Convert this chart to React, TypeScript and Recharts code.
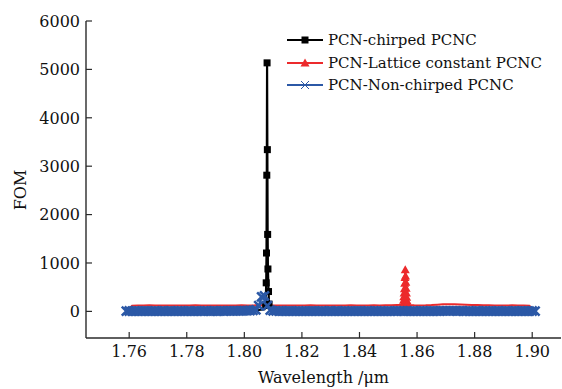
import { LineChart, Line, XAxis, YAxis } from "recharts";

const FONT = "'DejaVu Serif', serif";
const BLACK = "#000000";
const RED = "#ec2a2c";
const BLUE = "#2b58a6";

// wavelength grids (µm)
const GRID_START = 1.759;
const BLUE_STEP = 0.001;
const BASE_STEP = 0.002;

const X_TICKS = [1.76, 1.78, 1.8, 1.82, 1.84, 1.86, 1.88, 1.9];
const Y_TICKS = [0, 1000, 2000, 3000, 4000, 5000, 6000];

// PCN-chirped PCNC (black) baseline on the 0.002 grid
const BLACK_BASE = [
  12, 14, 13, 15, 12, 14, 13, 15, 14, 12,
  13, 15, 14, 12, 16, 13, 14, 15, 16, 18,
  17, 19, 22, 28, 45, 30, 20, 17, 15, 14,
  13, 15, 14, 12, 13, 15, 14, 13, 12, 14,
  15, 13, 14, 12, 13, 14, 15, 13, 14, 12,
  13, 15, 14, 13, 12, 14, 13, 15, 14, 13,
  12, 14, 13, 15, 14, 12, 13, 14, 15, 13,
  12, 14,
];
const BLACK_PEAK_WL = [1.8074, 1.8076, 1.8077, 1.8078, 1.8079, 1.808, 1.8081, 1.8082, 1.8084, 1.8086];
const BLACK_PEAK_FOM = [120, 590, 1206, 2814, 5135, 3342, 1590, 876, 410, 150];

// PCN-Lattice constant PCNC (red)
const RED_BASE = [
  0, 118, 122, 120, 125, 121, 119, 123, 120, 124,
  122, 120, 125, 121, 123, 120, 124, 122, 121, 123,
  125, 122, 124, 128, 126, 123, 121, 124, 122, 120,
  123, 121, 125, 122, 120, 124, 121, 123, 122, 125,
  121, 124, 122, 126, 123, 125, 128, 132, 135, 132,
  126, 123, 125, 130, 138, 145, 148, 146, 142, 138,
  134, 130, 127, 125, 123, 124, 122, 125, 123, 121,
  118, 0,
];
const RED_PEAK_WL = [
  1.8552, 1.8553, 1.8554, 1.8555, 1.8556, 1.8557, 1.8558, 1.8559,
  1.856, 1.8561, 1.8562, 1.8563, 1.8564, 1.8565, 1.8566,
];
const RED_PEAK_FOM = [170, 230, 300, 380, 470, 580, 700, 860, 730, 600, 480, 380, 290, 220, 165];

// PCN-Non-chirped PCNC (blue) on the 0.001 grid
const BLUE_BASE = [
  6, 8, 5, 7, 6, 4, 7, 8, 6, 5,
  7, 6, 5, 8, 6, 7, 5, 6, 8, 7,
  6, 5, 7, 6, 8, 5, 6, 7, 9, 6,
  7, 8, 6, 9, 8, 10, 9, 11, 10, 12,
  13, 15, 16, 18, 22, 30, 120, 300, 320, 120,
  25, 12, 9, 8, 7, 6, 8, 7, 6, 5,
  7, 6, 5, 6, 8, 7, 5, 6, 7, 6,
  5, 7, 6, 8, 6, 5, 7, 6, 5, 6,
  8, 7, 6, 5, 7, 6, 8, 7, 6, 5,
  6, 7, 5, 6, 8, 9, 7, 6, 5, 6,
  7, 6, 8, 7, 6, 5, 7, 8, 6, 7,
  9, 10, 11, 10, 9, 8, 9, 7, 6, 7,
  6, 5, 7, 6, 8, 7, 6, 5, 6, 7,
  5, 6, 7, 6, 5, 7, 6, 8, 7, 6,
  5, 7, 6,
];

function buildSeries(base: number[], step: number, peakWl: number[] = [], peakFom: number[] = []) {
  const pts = base.map((fom, i) => ({ wl: +(GRID_START + i * step).toFixed(4), fom }));
  peakWl.forEach((wl, i) => pts.push({ wl, fom: peakFom[i] }));
  return pts.sort((a, b) => a.wl - b.wl);
}

const blackData = buildSeries(BLACK_BASE, BASE_STEP, BLACK_PEAK_WL, BLACK_PEAK_FOM);
const redData = buildSeries(RED_BASE, BASE_STEP, RED_PEAK_WL, RED_PEAK_FOM);
const blueData = buildSeries(BLUE_BASE, BLUE_STEP);

const X_DOMAIN = [1.745, 1.91];
const Y_DOMAIN = [-550, 6000];
const AXIS_COLOR = "#2a2a2a";

// baseline markers are buried in the blue band, only peaks show them
const SquareDot = (p: any) => {
  const { cx, cy, payload, index } = p;
  if (payload.fom < 100) return <g key={`b${index}`} />;
  return <rect key={`b${index}`} x={cx - 3.5} y={cy - 3.5} width={7} height={7} fill={BLACK} />;
};

const TriangleDot = (p: any) => {
  const { cx, cy, payload, index } = p;
  if (payload.fom < 150) return <g key={`r${index}`} />;
  return (
    <path key={`r${index}`} d={`M${cx},${cy - 4.5} L${cx + 4.5},${cy + 3.5} L${cx - 4.5},${cy + 3.5} Z`} fill={RED} />
  );
};

const CrossDot = (p: any) => {
  const { cx, cy, index } = p;
  const s = 4.5;
  return (
    <path
      key={`x${index}`}
      d={`M${cx - s},${cy - s} L${cx + s},${cy + s} M${cx - s},${cy + s} L${cx + s},${cy - s}`}
      stroke={BLUE}
      strokeWidth={2.6}
    />
  );
};

const XTick = ({ x, y, payload }: any) => (
  <g>
    <line x1={x} x2={x} y1={y - 8} y2={y - 14} stroke={AXIS_COLOR} strokeWidth={1.2} />
    <text x={x} y={y} dy="0.71em" textAnchor="middle" fontSize={16} fontFamily={FONT} fill="#111">
      {payload.value.toFixed(2)}
    </text>
  </g>
);

const YTick = ({ x, y, payload }: any) => (
  <g>
    <line x1={x + 6} x2={x + 12} y1={y} y2={y} stroke={AXIS_COLOR} strokeWidth={1.2} />
    <text x={x} y={y} dy="0.36em" textAnchor="end" fontSize={16} fontFamily={FONT} fill="#111">
      {payload.value}
    </text>
  </g>
);

const LEGEND = [
  { name: "PCN-chirped PCNC", color: BLACK, marker: "square" },
  { name: "PCN-Lattice constant PCNC", color: RED, marker: "triangle" },
  { name: "PCN-Non-chirped PCNC", color: BLUE, marker: "cross" },
];

function LegendBox() {
  const rowY = [40, 63, 85];
  return (
    <svg width={562} height={389} style={{ position: "absolute", left: 0, top: 0, pointerEvents: "none" }}>
      {LEGEND.map((l, i) => {
        const y = rowY[i];
        const cx = 305;
        return (
          <g key={l.name}>
            <line x1={287} x2={323} y1={y} y2={y} stroke={l.color} strokeWidth={2} />
            {l.marker === "square" && <rect x={cx - 3.5} y={y - 3.5} width={7} height={7} fill={l.color} />}
            {l.marker === "triangle" && (
              <path d={`M${cx},${y - 4.5} L${cx + 4.5},${y + 3.5} L${cx - 4.5},${y + 3.5} Z`} fill={l.color} />
            )}
            {l.marker === "cross" && (
              <path
                d={`M${cx - 4},${y - 4} L${cx + 4},${y + 4} M${cx - 4},${y + 4} L${cx + 4},${y - 4}`}
                stroke={l.color}
                strokeWidth={1}
              />
            )}
            <text x={328} y={y} dy="0.36em" fontSize={15} fontFamily={FONT} fill="#111">
              {l.name}
            </text>
          </g>
        );
      })}
    </svg>
  );
}

export default function App() {
  return (
    <div style={{ position: "absolute", left: 0, top: 0, width: 562, height: 389, background: "#fff" }}>
      <LineChart width={562} height={389} margin={{ top: 21, right: 1, left: 10, bottom: 0 }}>
        <XAxis
          dataKey="wl"
          type="number"
          domain={X_DOMAIN}
          ticks={X_TICKS}
          allowDataOverflow
          height={51}
          tickSize={0}
          tickMargin={8}
          tick={<XTick />}
          axisLine={{ stroke: AXIS_COLOR, strokeWidth: 1.4 }}
          label={{ value: "Wavelength /μm", position: "insideBottom", offset: 6, fontSize: 16, fontFamily: FONT, fill: "#111" }}
        />
        <XAxis
          xAxisId="top"
          orientation="top"
          type="number"
          domain={X_DOMAIN}
          height={0}
          tick={false}
          tickLine={false}
          axisLine={{ stroke: AXIS_COLOR, strokeWidth: 1.4 }}
        />
        <YAxis
          type="number"
          domain={Y_DOMAIN}
          ticks={Y_TICKS}
          allowDataOverflow
          width={76}
          tickSize={0}
          tickMargin={6}
          tick={<YTick />}
          axisLine={{ stroke: AXIS_COLOR, strokeWidth: 1.4 }}
          label={{
            content: () => (
              <text x={20} y={190} transform="rotate(-90 20 190)" textAnchor="middle" dy="0.36em" fontSize={16} fontFamily={FONT} fill="#111">
                FOM
              </text>
            ),
          }}
        />
        <YAxis
          yAxisId="right"
          orientation="right"
          type="number"
          domain={Y_DOMAIN}
          width={0}
          tick={false}
          tickLine={false}
          axisLine={{ stroke: AXIS_COLOR, strokeWidth: 1.4 }}
        />
        <Line
          data={blackData}
          dataKey="fom"
          type="linear"
          stroke={BLACK}
          strokeWidth={2.2}
          dot={SquareDot}
          activeDot={false}
          isAnimationActive={false}
        />
        <Line
          data={redData}
          dataKey="fom"
          type="linear"
          stroke={RED}
          strokeWidth={2}
          dot={TriangleDot}
          activeDot={false}
          isAnimationActive={false}
        />
        <Line
          data={blueData}
          dataKey="fom"
          type="linear"
          stroke={BLUE}
          strokeWidth={2}
          dot={CrossDot}
          activeDot={false}
          isAnimationActive={false}
        />
      </LineChart>
      <LegendBox />
    </div>
  );
}
